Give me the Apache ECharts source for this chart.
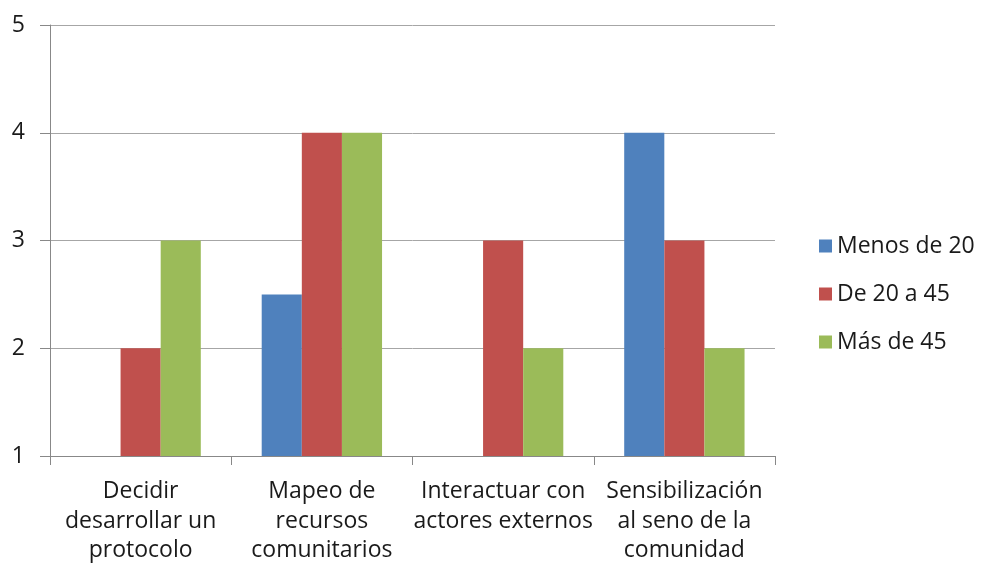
<!DOCTYPE html>
<html>
<head>
<meta charset="utf-8">
<script src="https://cdn.jsdelivr.net/npm/echarts@6/dist/echarts.min.js"></script>
<style>html,body{margin:0;padding:0;background:#fff;}#c{width:983px;height:568px;}</style>
</head>
<body>
<div id="c"></div>
<script>
const categories = ["Decidir\ndesarrollar un\nprotocolo", "Mapeo de\nrecursos\ncomunitarios", "Interactuar con\nactores externos", "Sensibilización\nal seno de la\ncomunidad"];
const seriesNames = ["Menos de 20", "De 20 a 45", "Más de 45"];
const menos20 = [1, 2.5, 1, 4];
const de20a45 = [2, 4, 3, 3];
const mas45 = [3, 4, 2, 2];
const yTicks = [1, 2, 3, 4, 5];
const colors = ["#4F81BD", "#C0504D", "#9BBB59"];

const chart = echarts.init(document.getElementById('c'));
const font = '"Open Sans", Lato, sans-serif';
chart.setOption({
  animation: false,
  color: colors,
  textStyle: { fontFamily: font },
  grid: { left: 50, right: 208, top: 25, bottom: 112, containLabel: false },
  legend: {
    orient: 'vertical', left: 814, top: 229,
    itemWidth: 13, itemHeight: 13, itemGap: 24, icon: 'rect',
    textStyle: { fontSize: 23, color: '#1a1a1a', fontFamily: font, lineHeight: 24, padding: [0,0,0,0] },
    data: seriesNames
  },
  xAxis: {
    type: 'category', data: categories,
    axisLine: { lineStyle: { color: '#888', width: 1 } },
    axisTick: { show: true, length: 9, lineStyle: { color: '#888' } },
    axisLabel: { interval: 0, fontSize: 23, color: '#1a1a1a', lineHeight: 29.5, margin: 21, fontFamily: font }
  },
  yAxis: {
    type: 'value', min: 1, max: 5, interval: 1,
    axisLine: { show: true, lineStyle: { color: '#888', width: 1 } },
    axisTick: { show: true, length: 10, lineStyle: { color: '#888' } },
    axisLabel: { fontSize: 23, color: '#1a1a1a', margin: 25, fontFamily: font,
      formatter: v => yTicks.includes(v) ? String(v) : '' },
    splitLine: { show: true, lineStyle: { color: '#A6A6A6', width: 1 } }
  },
  series: [
    { name: seriesNames[0], type: 'bar', data: menos20, barGap: '0%', barCategoryGap: '33.6%' },
    { name: seriesNames[1], type: 'bar', data: de20a45, barGap: '0%', barCategoryGap: '33.6%' },
    { name: seriesNames[2], type: 'bar', data: mas45, barGap: '0%', barCategoryGap: '33.6%' }
  ]
});
</script>
</body>
</html>
